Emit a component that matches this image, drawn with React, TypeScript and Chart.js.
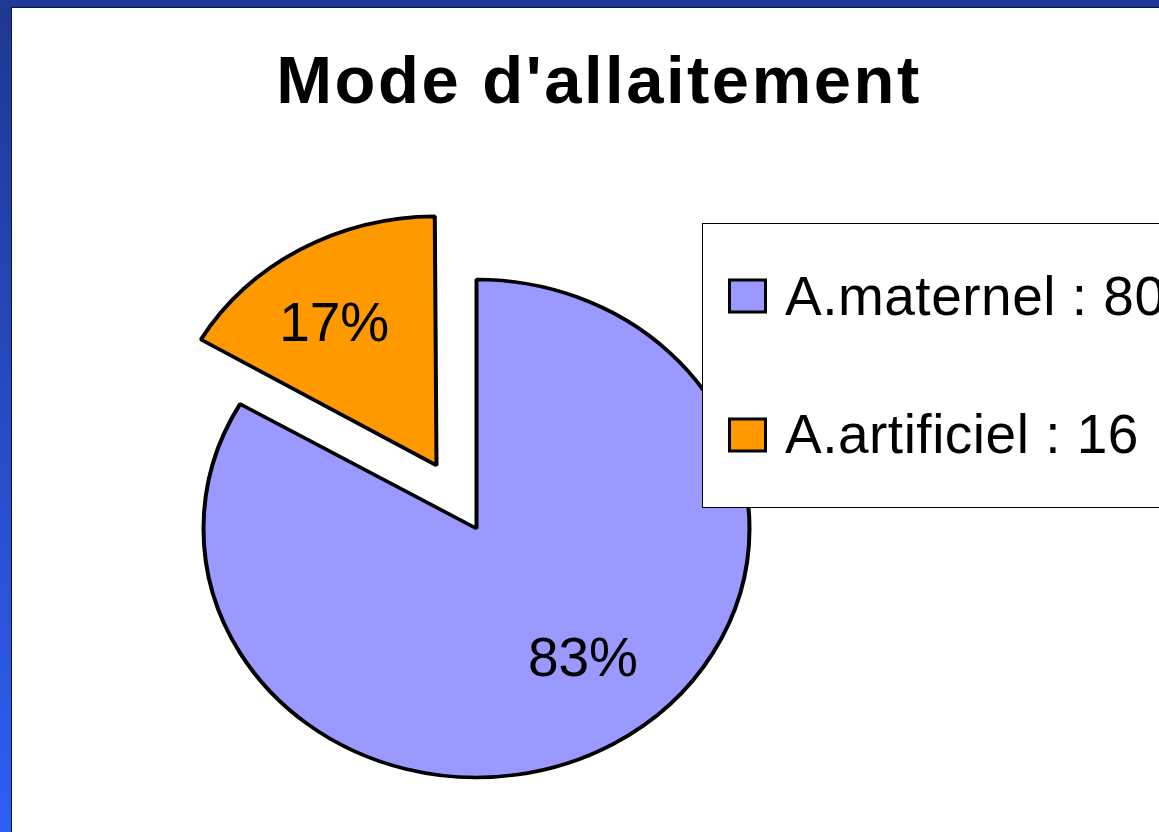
import React, { useEffect, useRef } from 'react';
import { Chart, registerables } from 'chart.js';

Chart.register(...registerables);

const titleText = "Mode d'allaitement";
const categories = ['A.maternel', 'A.artificiel'];
const values = [80, 16];
const sliceColors = ['#9999ff', '#ff9900'];
const sliceOffsets = [0, 320];

const Y_SCALE = 0.912;
const LABEL_RADIUS = 0.68;
const LABEL_NUDGE_Y = -6;
const LABEL_ANGLE_SHIFT = (-5 * Math.PI) / 180;
const FONT = '"Liberation Sans", Arial, Helvetica, sans-serif';

function centerOf(chart: any) {
  const a = chart.chartArea;
  return { cx: (a.left + a.right) / 2, cy: (a.top + a.bottom) / 2 };
}

const backgroundPlugin = {
  id: 'slideBackground',
  beforeDraw(chart: any) {
    const ctx = chart.ctx;
    const w = chart.width;
    const h = chart.height;
    ctx.save();
    ctx.fillStyle = '#ffffff';
    ctx.fillRect(0, 0, w, h);
    const g = ctx.createLinearGradient(0, 0, 0, h);
    g.addColorStop(0, '#1e3892');
    g.addColorStop(1, '#2f5ef4');
    ctx.fillStyle = g;
    ctx.fillRect(0, 0, 11, h);
    ctx.fillStyle = '#1e3a96';
    ctx.fillRect(0, 0, w, 7);
    ctx.fillStyle = '#0d1540';
    ctx.fillRect(11, 7, 1, h - 7);
    ctx.fillRect(11, 7, w - 11, 1);
    ctx.restore();
  },
};

// keep exploded slices at the same radius as the others
const radiusFixPlugin = {
  id: 'radiusFix',
  afterDatasetsUpdate(chart: any) {
    const meta = chart.getDatasetMeta(0);
    meta.data.forEach((arc: any, i: number) => {
      const off = (sliceOffsets[i] || 0) / 4;
      if (!off) return;
      const fix = 1 - Math.sin(Math.min(Math.PI, arc.circumference || 0));
      arc.outerRadius = arc.outerRadius - off * fix;
    });
  },
};

const ellipsePlugin = {
  id: 'ellipse',
  beforeDatasetsDraw(chart: any) {
    const { cx, cy } = centerOf(chart);
    const ctx = chart.ctx;
    ctx.save();
    ctx.translate(cx, cy);
    ctx.scale(1, Y_SCALE);
    ctx.translate(-cx, -cy);
  },
  afterDatasetsDraw(chart: any) {
    chart.ctx.restore();
  },
};

const overlayPlugin = {
  id: 'overlay',
  afterDraw(chart: any) {
    const ctx = chart.ctx;
    const { cy } = centerOf(chart);
    const ds = chart.data.datasets[0];
    const data: number[] = ds.data;
    const total = data.reduce((s, v) => s + v, 0);
    const meta = chart.getDatasetMeta(0);

    ctx.save();
    // percentage labels
    ctx.font = `55px ${FONT}`;
    ctx.fillStyle = '#000000';
    ctx.textAlign = 'center';
    ctx.textBaseline = 'middle';
    meta.data.forEach((arc: any, i: number) => {
      const p = arc.getProps(['x', 'y', 'startAngle', 'endAngle', 'outerRadius'], true);
      const mid = (p.startAngle + p.endAngle) / 2;
      const off = (sliceOffsets[i] || 0) / 4;
      const bx = p.x + Math.cos(mid) * off;
      const by = p.y + Math.sin(mid) * off;
      const la = mid + LABEL_ANGLE_SHIFT;
      const r = p.outerRadius * LABEL_RADIUS;
      const px = bx + Math.cos(la) * r;
      const py = cy + (by + Math.sin(la) * r - cy) * Y_SCALE + LABEL_NUDGE_Y;
      ctx.fillText(`${Math.round((data[i] / total) * 100)}%`, px, py);
    });

    // title
    ctx.font = `bold 67px ${FONT}`;
    (ctx as any).letterSpacing = '2.5px';
    ctx.textAlign = 'center';
    ctx.textBaseline = 'alphabetic';
    ctx.fillText(titleText, 599, 103);

    // legend box
    ctx.fillStyle = '#ffffff';
    ctx.fillRect(702, 223, chart.width - 702 + 5, 285);
    ctx.strokeStyle = '#000000';
    ctx.lineWidth = 1;
    ctx.strokeRect(702.5, 223.5, chart.width, 284);

    ctx.font = `55px ${FONT}`;
    (ctx as any).letterSpacing = '0.5px';
    ctx.textAlign = 'left';
    ctx.textBaseline = 'alphabetic';
    chart.data.labels.forEach((label: string, i: number) => {
      const top = 280 + i * 139;
      ctx.fillStyle = sliceColors[i];
      ctx.fillRect(729.5, top, 36, 32);
      ctx.lineWidth = 3;
      ctx.strokeStyle = '#000000';
      ctx.strokeRect(729.5, top, 36, 32);
      ctx.fillStyle = '#000000';
      ctx.fillText(`${label} : ${data[i]}`, 785, 315 + i * 138);
    });
    (ctx as any).letterSpacing = '0px';
    ctx.restore();
  },
};

export default function App() {
  const ref = useRef<HTMLCanvasElement | null>(null);
  useEffect(() => {
    if (!ref.current) return;
    const chart = new Chart(ref.current, {
      type: 'pie',
      data: {
        labels: categories,
        datasets: [
          {
            data: values,
            backgroundColor: sliceColors,
            borderColor: '#000000',
            borderWidth: 4,
            offset: sliceOffsets,
            clip: false,
          } as any,
        ],
      },
      options: {
        responsive: false,
        animation: false,
        radius: 273,
        rotation: 0,
        layout: { padding: { left: 0, right: 206, top: 225, bottom: 0 } },
        plugins: {
          legend: { display: false },
          title: { display: false },
          tooltip: { enabled: false },
        },
      } as any,
      plugins: [backgroundPlugin, radiusFixPlugin, ellipsePlugin, overlayPlugin],
    });
    return () => chart.destroy();
  }, []);
  return (
    <div style={{ position: 'fixed', left: 0, top: 0, width: 1159, height: 832, overflow: 'hidden' }}>
      <canvas ref={ref} width={1159} height={832} style={{ display: 'block' }} />
    </div>
  );
}
